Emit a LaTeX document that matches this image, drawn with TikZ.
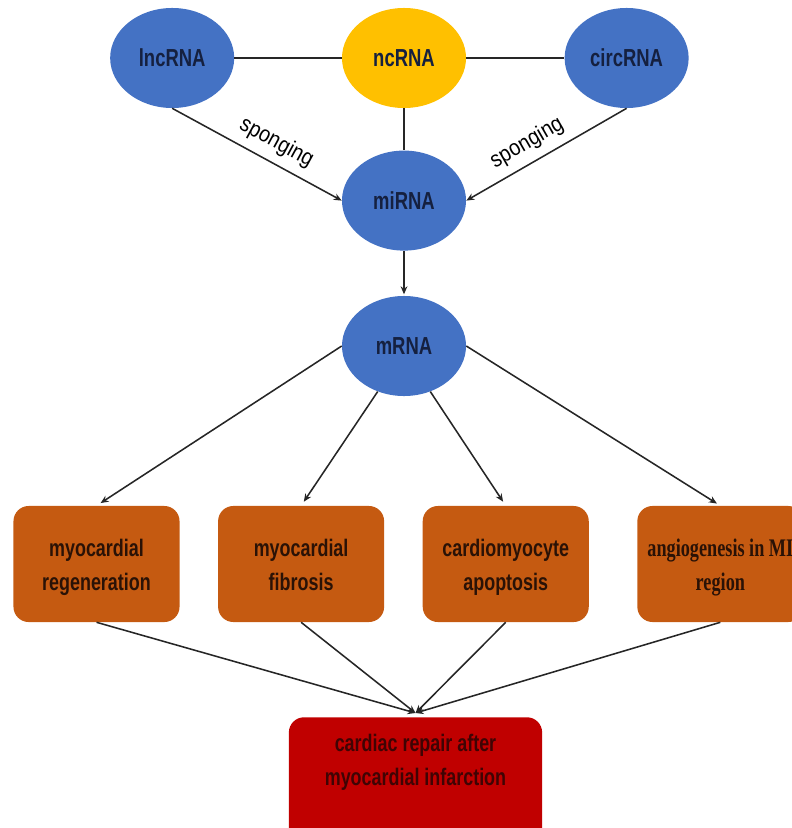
\documentclass[tikz,border=0pt]{standalone}
\usepackage{fontspec}
\usetikzlibrary{arrows.meta,positioning,shapes.geometric}
\newfontfamily\narrowsans{Liberation Sans}[FakeStretch=0.75]
\newfontfamily\spongesans{Liberation Sans}[FakeStretch=0.88]
\newfontfamily\narrowserif{Liberation Serif}[FakeStretch=0.72]
\definecolor{rnablue}{HTML}{4472C4}
\definecolor{ncgold}{HTML}{FFC000}
\definecolor{boxorange}{HTML}{C55A11}
\definecolor{repairred}{HTML}{C00000}
\definecolor{inkblue}{HTML}{15203F}
\definecolor{inkbrown}{HTML}{2A1206}
\definecolor{inkred}{HTML}{3F0404}

\begin{document}
\begin{tikzpicture}[
    x=0.025cm, y=-0.025cm,
    rna/.style={ellipse, fill=rnablue, inner sep=0pt, minimum width=3.1cm, minimum height=2.5cm,
        text=inkblue, font=\narrowsans\bfseries\fontsize{17.5}{24}\selectfont},
    effect/.style={rectangle, rounded corners=0.38cm, fill=boxorange, align=center, minimum width=4.15cm,
        minimum height=2.9cm, text height=1.6cm, text depth=0.3cm, text=inkbrown,
        font=\narrowsans\bfseries\fontsize{17}{23.5}\selectfont},
    repair/.style={rectangle, rounded corners=0.38cm, fill=repairred, align=center, minimum width=6.33cm,
        inner ysep=0.42cm, text depth=1.65cm, text=inkred, font=\narrowsans\bfseries\fontsize{17}{24.5}\selectfont},
    sponge/.style={font=\spongesans\fontsize{16}{18}\selectfont, inner sep=2pt},
    link/.style={line width=1.1pt, draw=black!85},
    flow/.style={-{Stealth[length=2mm,width=1.7mm]}, line width=1.1pt, draw=black!85}
]
\useasboundingbox (0,0) rectangle (791,828);

% RNA layer
\node[rna, fill=ncgold] (nc) at (404,58) {ncRNA};
\node[rna, left=2.68cm of nc] (lnc) {lncRNA};
\node[rna, right=2.45cm of nc] (circ) {circRNA};
\node[rna, below=1.05cm of nc] (mi) {miRNA};
\node[rna, below=1.12cm of mi] (m) {mRNA};

% effects on the heart
\node[effect] (regen) at (96.5,564) {myocardial\\regeneration};
\node[effect, right=0.95cm of regen] (fibro) {myocardial\\fibrosis};
\node[effect, right=0.95cm of fibro] (apop) {cardiomyocyte\\apoptosis};
\node[effect, right=1.2cm of apop, font=\narrowserif\bfseries\fontsize{18}{23.5}\selectfont] (angio) {angiogenesis in MI\\region};
\node[repair, anchor=north] (rep) at (415.5,717) {cardiac repair after\\myocardial infarction};
\coordinate (join) at ([yshift=0.1cm]rep.north);

\draw[link] (lnc) -- (nc);
\draw[link] (nc) -- (circ);
\draw[link] (nc) -- (mi);
\draw[flow] (lnc.south) -- node[pos=0.56, sloped, above=4pt, sponge] {sponging} (mi.west);
\draw[flow] (circ.south) -- node[pos=0.56, sloped, above=4pt, sponge] {sponging} (mi.east);
\draw[flow, shorten >=1pt] (mi) -- (m);

\draw[flow, shorten >=0.12cm] (m.west) -- (regen.north);
\draw[flow, shorten >=0.12cm] (m.-120) -- (fibro.north);
\draw[flow, shorten >=0.12cm] (m.-60) -- (apop.north);
\draw[flow, shorten >=0.1cm] (m.east) -- (angio.north);

\draw[flow] (regen.south) -- (join);
\draw[flow] (fibro.south) -- (join);
\draw[flow] (apop.south) -- (join);
\draw[flow] (angio.south) -- (join);
\end{tikzpicture}
\end{document}
